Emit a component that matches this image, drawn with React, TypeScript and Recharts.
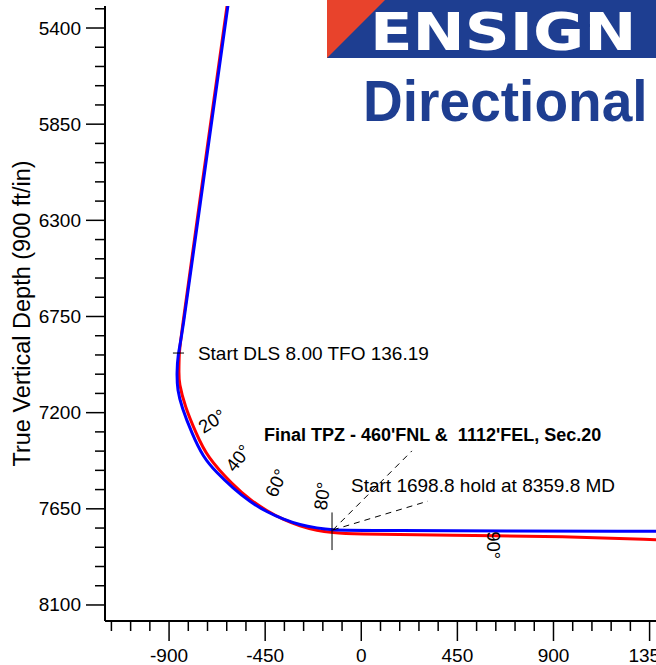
import React from 'react';
import { LineChart, Line, XAxis, YAxis, ReferenceLine, ReferenceDot, Label } from 'recharts';

// Vertical section (ft) and true vertical depth (ft)
const planVS = [-618, -765, -842, -858, -864, -861, -841, -794, -741, -676, -601, -521, -442, -367, -287, -207, -133, -53, 1450];
const planTVD = [5250, 6298, 6860, 6921, 7014, 7094, 7173, 7295, 7408, 7482, 7553, 7618, 7665, 7698, 7726, 7740, 7749, 7752, 7755];

const actualVS = [-622, -769, -846, -853, -854, -854, -825, -774, -722, -601, -521, -442, -367, -287, -207, -133, -53, 415, 963, 1380, 1450];
const actualTVD = [5250, 6298, 6860, 6921, 7014, 7060, 7173, 7295, 7408, 7539, 7608, 7660, 7700, 7731, 7752, 7761, 7768, 7773, 7780, 7794, 7797];

const yTicks = [5310, 5400, 5490, 5580, 5670, 5760, 5850, 5940, 6030, 6120, 6210, 6300, 6390, 6480, 6570, 6660, 6750, 6840, 6930, 7020, 7110, 7200, 7290, 7380, 7470, 7560, 7650, 7740, 7830, 7920, 8010, 8100];
const xTicks = [-1170, -1080, -990, -900, -810, -720, -630, -540, -450, -360, -270, -180, -90, 0, 90, 180, 270, 360, 450, 540, 630, 720, 810, 900, 990, 1080, 1170, 1260, 1350];

const inclinationLabels = ['20°', '40°', '60°', '80°', '90°'];
const inclinationVS = [-699, -577, -399, -184, 621];
const inclinationTVD = [7239, 7412, 7529, 7590, 7820];
const inclinationAngle = [-32, -52, -66, -82, 90];

const planData = planVS.map((x, i) => ({ x, y: planTVD[i] }));
const actualData = actualVS.map((x, i) => ({ x, y: actualTVD[i] }));

const FONT = '"Liberation Sans", Arial, Helvetica, sans-serif';

const YTick = (props: any) => {
  const { x, y, payload } = props;
  const v = payload.value;
  const major = v % 450 === 0;
  return (
    <g>
      <line x1={x} x2={x - (major ? 19 : 10)} y1={y} y2={y} stroke="#000" strokeWidth={1.5} />
      {major && (
        <text x={x - 24} y={y} textAnchor="end" dominantBaseline="central" fontSize={19} fontFamily={FONT} fill="#000">
          {v}
        </text>
      )}
    </g>
  );
};

const XTick = (props: any) => {
  const { x, y, payload } = props;
  const v = payload.value;
  const major = v % 450 === 0;
  return (
    <g>
      <line x1={x} x2={x} y1={y} y2={y + (major ? 20 : 10)} stroke="#000" strokeWidth={1.5} />
      {major && (
        <text x={x} y={y + 34} textAnchor="middle" dominantBaseline="central" fontSize={19} fontFamily={FONT} fill="#000">
          {v}
        </text>
      )}
    </g>
  );
};

const textShape = (label: string, opts: { anchor?: string; angle?: number; bold?: boolean; size?: number }) => (p: any) => {
  const angle = opts.angle || 0;
  return (
    <text
      x={p.cx}
      y={p.cy}
      textAnchor={opts.anchor || 'start'}
      dominantBaseline="central"
      fontSize={opts.size || 19}
      fontWeight={opts.bold ? 'bold' : 'normal'}
      fontFamily={FONT}
      fill="#000"
      style={{ whiteSpace: 'pre' }}
      transform={angle ? `rotate(${angle} ${p.cx} ${p.cy})` : undefined}
    >
      {label}
    </text>
  );
};

const Logo = () => (
  <svg width={656} height={665} style={{ position: 'absolute', left: 0, top: 0, pointerEvents: 'none' }}>
    <rect x={327} y={0} width={329} height={58} fill="#1e3e91" />
    <polygon points="327,0 385,0 327,58" fill="#e8432c" />
    <text transform="translate(370,50) scale(1.2,1)" x={0} y={0} fontSize={52} fontWeight="bold" fontFamily='"DejaVu Sans", Arial, sans-serif' fill="#fff">
      ENSIGN
    </text>
    <text transform="translate(363,121) scale(0.95,1)" x={0} y={0} fontSize={58} fontWeight="bold" fontFamily={FONT} fill="#1e3e91">
      Directional
    </text>
  </svg>
);

export default function App() {
  return (
    <div style={{ position: 'absolute', left: 0, top: 0, width: 656, height: 665, overflow: 'hidden', background: '#fff' }}>
      <LineChart width={656} height={665} margin={{ top: 6, right: 0, bottom: 0, left: 0 }} style={{ fontFamily: FONT }}>
        <XAxis
          type="number"
          dataKey="x"
          domain={[-1200, 1380]}
          allowDataOverflow
          ticks={xTicks}
          interval={0}
          height={44}
          tickSize={0}
          tickMargin={0}
          tickLine={false}
          tick={<XTick />}
          axisLine={{ stroke: '#000', strokeWidth: 2 }}
        />
        <YAxis
          type="number"
          dataKey="y"
          domain={[5297, 8175]}
          reversed
          allowDataOverflow
          ticks={yTicks}
          interval={0}
          width={105}
          tickSize={0}
          tickMargin={0}
          tickLine={false}
          tick={<YTick />}
          axisLine={{ stroke: '#000', strokeWidth: 2 }}
        >
          <Label
            content={(p: any) => {
              const vb = p.viewBox || { x: 0, y: 6, width: 105, height: 615 };
              const cy = vb.y + vb.height / 2;
              return (
                <text x={22} y={cy} textAnchor="middle" dominantBaseline="central" fontSize={23.5} fontFamily={FONT} fill="#000" transform={`rotate(-90 22 ${cy})`}>
                  True Vertical Depth (900 ft/in)
                </text>
              );
            }}
          />
        </YAxis>

        <Line data={actualData} dataKey="y" type="basis" stroke="#ff0000" strokeWidth={3} dot={false} isAnimationActive={false} />
        <Line data={planData} dataKey="y" type="basis" stroke="#0000ff" strokeWidth={3} dot={false} isAnimationActive={false} />

        <ReferenceLine segment={[{ x: -882, y: 6921 }, { x: -830, y: 6921 }]} stroke="#000" strokeWidth={1} ifOverflow="visible" />
        <ReferenceLine segment={[{ x: -137, y: 7667 }, { x: -137, y: 7843 }]} stroke="#000" strokeWidth={1} ifOverflow="visible" />
        <ReferenceLine segment={[{ x: -133, y: 7749 }, { x: 237, y: 7379 }]} stroke="#000" strokeWidth={1} strokeDasharray="6 5" ifOverflow="visible" />
        <ReferenceLine segment={[{ x: -133, y: 7749 }, { x: 312, y: 7614 }]} stroke="#000" strokeWidth={1} strokeDasharray="6 5" ifOverflow="visible" />

        <ReferenceDot x={-765} y={6925} r={0} ifOverflow="visible" shape={textShape('Start DLS 8.00 TFO 136.19', {})} />
        <ReferenceDot x={-456} y={7305} r={0} ifOverflow="visible" shape={textShape("Final TPZ - 460'FNL &  1112'FEL, Sec.20", { bold: true, size: 18 })} />
        <ReferenceDot x={-48} y={7543} r={0} ifOverflow="visible" shape={textShape('Start 1698.8 hold at 8359.8 MD', {})} />

        {inclinationLabels.map((lab, i) => (
          <ReferenceDot
            key={lab}
            x={inclinationVS[i]}
            y={inclinationTVD[i]}
            r={0}
            ifOverflow="visible"
            shape={textShape(lab, { anchor: 'middle', angle: inclinationAngle[i], size: 18.5 })}
          />
        ))}
      </LineChart>
      <Logo />
    </div>
  );
}
